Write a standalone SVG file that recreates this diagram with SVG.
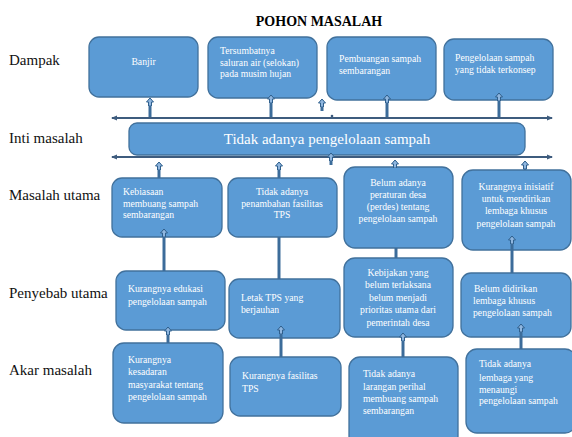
<svg xmlns="http://www.w3.org/2000/svg" width="572" height="437" viewBox="0 0 572 437">
<style>
.bx{fill:#5b9bd5;stroke:#41719c;stroke-width:1.3}
.t{font-family:"Liberation Serif","Times New Roman",serif;font-size:9.7px;fill:#ffffff}
.c{text-anchor:middle}
.lbl{font-family:"Liberation Serif","Times New Roman",serif;font-size:15px;fill:#111}
.sh{stroke:#3c6c9a;stroke-width:3;fill:none}
.hl{stroke:#3e5c7e;stroke-width:2;fill:none}
</style>
<defs>
<marker id="ah" markerUnits="userSpaceOnUse" markerWidth="10" markerHeight="10" refX="7" refY="5" orient="auto" viewBox="0 0 10 10">
<path d="M8,5 L4,1.5 L4,3.5 L0,3.5 L0,6.5 L4,6.5 L4,8.5 Z" fill="#8fb6df" stroke="#2f5f8c" stroke-width="1"/>
</marker>
<marker id="lh" markerUnits="userSpaceOnUse" markerWidth="6" markerHeight="6" refX="5" refY="3" orient="auto-start-reverse" viewBox="0 0 6 6">
<path d="M0,0.5 L6,3 L0,5.5 Z" fill="#3e5c7e"/>
</marker>
</defs>
<rect width="572" height="437" fill="#ffffff"/>
<text x="319" y="26" text-anchor="middle" font-family="Liberation Serif,'Times New Roman',serif" font-size="14" font-weight="bold" fill="#000">POHON MASALAH</text>
<g id="labels">
<text class="lbl" x="9" y="65">Dampak</text>
<text class="lbl" x="9" y="143">Inti masalah</text>
<text class="lbl" x="9" y="200">Masalah utama</text>
<text class="lbl" x="9" y="298">Penyebab utama</text>
<text class="lbl" x="9" y="375">Akar masalah</text>
</g>
<g id="d1"><rect class="bx" x="89" y="37" width="109" height="60" rx="10"/><text class="t c" x="143.5" y="65">Banjir</text></g>
<g id="d2"><rect class="bx" x="208" y="37" width="109" height="61" rx="10"/><text class="t" x="220" y="54">Tersumbatnya</text><text class="t" x="220" y="65.5">saluran air (selokan)</text><text class="t" x="220" y="77">pada musim hujan</text></g>
<g id="d3"><rect class="bx" x="327" y="37" width="109" height="63" rx="10"/><text class="t" x="339" y="61.5">Pembuangan sampah</text><text class="t" x="339" y="73.5">sembarangan</text></g>
<g id="d4"><rect class="bx" x="444" y="39" width="109" height="61" rx="10"/><text class="t" x="455" y="60.5">Pengelolaan sampah</text><text class="t" x="455" y="73">yang tidak terkonsep</text></g>
<g id="core"><rect class="bx" x="129" y="123" width="396" height="32" rx="8"/><text x="327" y="144" text-anchor="middle" font-family="Liberation Serif,'Times New Roman',serif" font-size="15" fill="#fff">Tidak adanya pengelolaan sampah</text></g>
<g id="m1"><rect class="bx" x="112" y="178" width="110" height="59" rx="10"/><text class="t" x="123" y="195">Kebiasaan</text><text class="t" x="123" y="206.5">membuang sampah</text><text class="t" x="123" y="217.5">sembarangan</text></g>
<g id="m2"><rect class="bx" x="228" y="178" width="109" height="59" rx="10"/><text class="t c" x="282" y="195">Tidak adanya</text><text class="t c" x="282" y="206.5">penambahan fasilitas</text><text class="t c" x="282" y="217.5">TPS</text></g>
<g id="m3"><rect class="bx" x="344" y="167" width="109" height="81" rx="11"/><text class="t c" x="398" y="186">Belum adanya</text><text class="t c" x="398" y="197.5">peraturan desa</text><text class="t c" x="398" y="209.5">(perdes) tentang</text><text class="t c" x="398" y="221.5">pengelolaan sampah</text></g>
<g id="m4"><rect class="bx" x="462" y="170" width="109" height="80" rx="11"/><text class="t c" x="516" y="189.5">Kurangnya inisiatif</text><text class="t c" x="516" y="201.5">untuk mendirikan</text><text class="t c" x="516" y="214">lembaga khusus</text><text class="t c" x="516" y="226.5">pengelolaan sampah</text></g>
<g id="p1"><rect class="bx" x="116" y="271" width="109" height="59" rx="10"/><text class="t" x="128" y="291.5">Kurangnya edukasi</text><text class="t" x="128" y="305">pengelolaan sampah</text></g>
<g id="p2"><rect class="bx" x="229" y="279" width="111" height="59" rx="10"/><text class="t" x="241" y="300.5">Letak TPS yang</text><text class="t" x="241" y="312.5">berjauhan</text></g>
<g id="p3"><rect class="bx" x="344" y="258" width="109" height="79" rx="11"/><text class="t c" x="398" y="275.5">Kebijakan yang</text><text class="t c" x="398" y="288">belum terlaksana</text><text class="t c" x="398" y="300.5">belum menjadi</text><text class="t c" x="398" y="313">prioritas utama dari</text><text class="t c" x="398" y="325.5">pemerintah desa</text></g>
<g id="p4"><rect class="bx" x="461" y="273" width="110" height="64" rx="10"/><text class="t" x="474" y="291.5">Belum didirikan</text><text class="t" x="473" y="304">lembaga khusus</text><text class="t" x="473" y="316">pengelolaan sampah</text></g>
<g id="a1"><rect class="bx" x="113" y="343" width="110" height="80" rx="11"/><text class="t" x="128" y="363">Kurangnya</text><text class="t" x="128" y="374.5">kesadaran</text><text class="t" x="128" y="387.5">masyarakat tentang</text><text class="t" x="128" y="399.5">pengelolaan sampah</text></g>
<g id="a2"><rect class="bx" x="230" y="357" width="111" height="59" rx="10"/><text class="t" x="242" y="379">Kurangnya fasilitas</text><text class="t" x="242" y="391.5">TPS</text></g>
<g id="a3"><rect class="bx" x="349" y="357" width="109" height="90" rx="11"/><text class="t" x="363" y="376.5">Tidak adanya</text><text class="t" x="363" y="390">larangan perihal</text><text class="t" x="363" y="402">membuang sampah</text><text class="t" x="363" y="414">sembarangan</text></g>
<g id="a4"><rect class="bx" x="466" y="349" width="110" height="84" rx="11"/><text class="t" x="479" y="367">Tidak adanya</text><text class="t" x="479" y="380.5">lembaga yang</text><text class="t" x="479" y="392.5">menaungi</text><text class="t" x="479" y="404">pengelolaan sampah</text></g>
<g id="connectors">
<line class="hl" x1="112" y1="118" x2="552" y2="118" marker-start="url(#lh)" marker-end="url(#lh)"/>
<line class="hl" x1="112" y1="157" x2="552" y2="157" marker-start="url(#lh)" marker-end="url(#lh)"/>
<circle cx="332" cy="116" r="1.3" fill="#3e5c7e"/>
<line class="sh" x1="150" y1="117" x2="150" y2="99" marker-end="url(#ah)"/>
<line class="sh" x1="271" y1="117" x2="271" y2="96" marker-end="url(#ah)"/>
<line class="sh" x1="322" y1="111" x2="322" y2="100" marker-end="url(#ah)"/>
<line class="sh" x1="387" y1="117" x2="387" y2="96" marker-end="url(#ah)"/>
<line class="sh" x1="499" y1="117" x2="499" y2="94" marker-end="url(#ah)"/>
<line class="sh" x1="331" y1="165" x2="331" y2="154" marker-end="url(#ah)"/>
<line class="sh" x1="159" y1="178" x2="159" y2="163" marker-end="url(#ah)"/>
<line class="sh" x1="279" y1="178" x2="279" y2="163" marker-end="url(#ah)"/>
<line class="sh" x1="395" y1="167" x2="395" y2="161" marker-end="url(#ah)"/>
<line class="sh" x1="525" y1="170" x2="525" y2="162" marker-end="url(#ah)"/>
<line class="sh" x1="164" y1="271" x2="164" y2="230" marker-end="url(#ah)"/>
<line class="sh" x1="279" y1="237" x2="279" y2="279"/>
<line class="sh" x1="396" y1="248" x2="396" y2="258"/>
<line class="sh" x1="512" y1="273" x2="512" y2="237" marker-end="url(#ah)"/>
<line class="sh" x1="168" y1="343" x2="168" y2="328" marker-end="url(#ah)"/>
<line class="sh" x1="281" y1="357" x2="281" y2="327" marker-end="url(#ah)"/>
<line class="sh" x1="403" y1="357" x2="403" y2="334" marker-end="url(#ah)"/>
<line class="sh" x1="521" y1="349" x2="521" y2="325" marker-end="url(#ah)"/>
</g>
</svg>
